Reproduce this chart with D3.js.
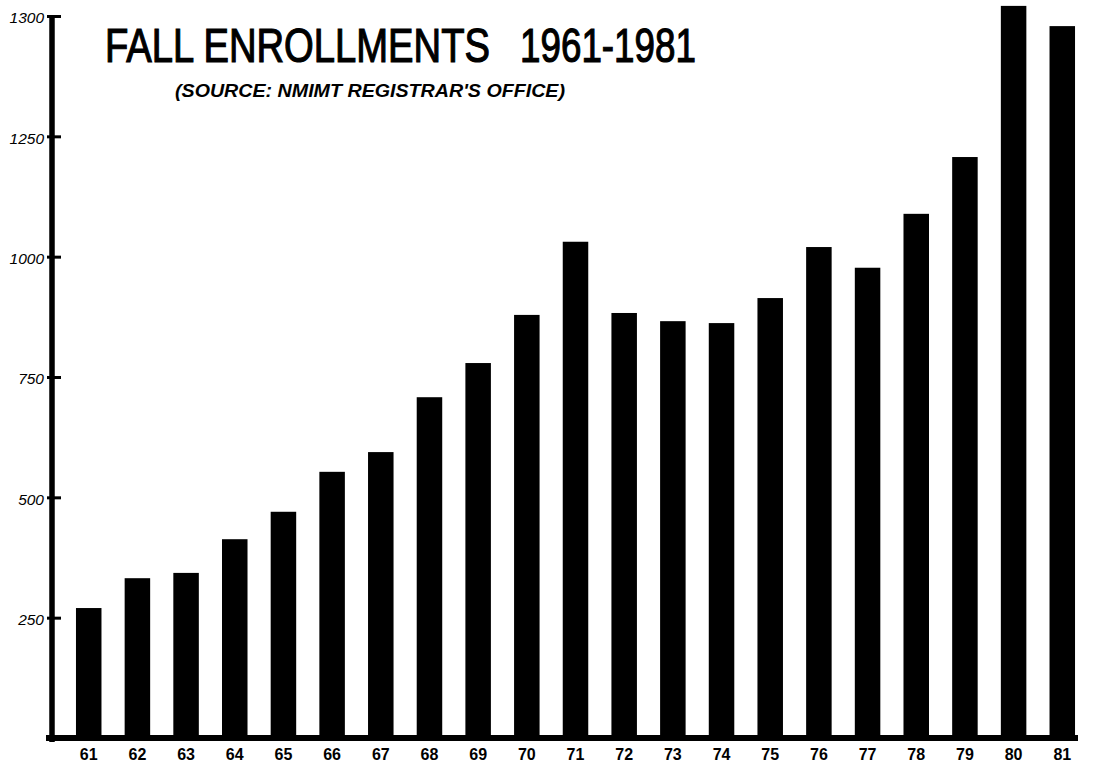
<!DOCTYPE html>
<html>
<head>
<meta charset="utf-8">
<script src="https://cdn.jsdelivr.net/npm/d3@7"></script>
<style>
  body { margin: 0; background: #fff; }
  svg { display: block; }
</style>
</head>
<body>
<div id="chart"></div>
<script>
const width = 1105
const height = 765

// data
const years = ['61', '62', '63', '64', '65', '66', '67', '68', '69', '70', '71',
  '72', '73', '74', '75', '76', '77', '78', '79', '80', '81']
const enrollments = [270, 332, 343, 413, 470, 553, 594, 708, 779, 879, 1031,
  883, 866, 862, 914, 1020, 977, 1089, 1207, 1521, 1479]
// tick positions and the labels as they were written (top one says 1300)
const tickValues = [250, 500, 750, 1000, 1250, 1500]
const tickLabels = ['250', '500', '750', '1000', '1250', '1300']

const axisX = 52
const baseY = 738

const svg = d3.select('#chart').append('svg')
  .attr('width', width)
  .attr('height', height)

svg.append('rect').attr('width', width).attr('height', height).attr('fill', '#fff')

const x = d3.scaleBand()
  .domain(years)
  .range([56.5, 1094.5])
  .paddingInner(0.476)
  .paddingOuter(0.4)

const y = d3.scaleLinear()
  .domain([0, 1500])
  .range([baseY, 16])

// bars
svg.append('g')
  .selectAll('rect')
  .data(years)
  .join('rect')
  .attr('x', (d) => x(d))
  .attr('y', (d, i) => y(enrollments[i]))
  .attr('width', x.bandwidth())
  .attr('height', (d, i) => baseY - y(enrollments[i]))
  .attr('fill', '#000')

// y axis
const yAxis = svg.append('g')
  .attr('transform', `translate(${axisX},0)`)
  .call(d3.axisLeft(y)
    .tickValues(tickValues)
    .tickFormat((d, i) => tickLabels[i])
    .tickSizeOuter(0)
    .tickSize(5)
    .tickPadding(3))
yAxis.select('.domain')
  .attr('d', `M0,${y(1500)}V${baseY + 4}`)
  .attr('stroke', '#000')
  .attr('stroke-width', 5.5)
yAxis.selectAll('.tick line')
  .attr('x1', -5)
  .attr('x2', 9)
  .attr('stroke', '#000')
  .attr('stroke-width', 3)
yAxis.selectAll('.tick text')
  .attr('font-family', 'Liberation Sans, sans-serif')
  .attr('font-style', 'italic')
  .attr('font-size', 15.5)
  .attr('fill', '#000')
  .attr('dy', '0.45em')

// x axis
const xAxis = svg.append('g')
  .attr('transform', `translate(0,${baseY})`)
  .call(d3.axisBottom(x).tickSize(0).tickPadding(11))
xAxis.select('.domain')
  .attr('d', `M${axisX - 6},0H1078`)
  .attr('stroke', '#000')
  .attr('stroke-width', 6)
xAxis.selectAll('.tick text')
  .attr('font-family', 'Liberation Sans, sans-serif')
  .attr('font-weight', 'bold')
  .attr('font-size', 16)
  .attr('fill', '#000')

// title: smaller font stretched upward so the two pieces stay apart
const titleParts = [
  { text: 'FALL ENROLLMENTS', x: 105, len: 385 },
  { text: '1961-1981', x: 520, len: 176 }
]
svg.selectAll('.title')
  .data(titleParts)
  .join('text')
  .attr('class', 'title')
  .attr('transform', (d) => `translate(${d.x},62) scale(1,1.35)`)
  .attr('font-family', 'Liberation Sans, sans-serif')
  .attr('font-size', 36)
  .attr('textLength', (d) => d.len)
  .attr('lengthAdjust', 'spacingAndGlyphs')
  .attr('fill', '#000')
  .attr('stroke', '#000')
  .attr('stroke-width', 0.9)
  .text((d) => d.text)

svg.append('text')
  .attr('x', 175)
  .attr('y', 97)
  .attr('font-family', 'Liberation Sans, sans-serif')
  .attr('font-style', 'italic')
  .attr('font-weight', 'bold')
  .attr('font-size', 18)
  .attr('textLength', 390)
  .attr('lengthAdjust', 'spacingAndGlyphs')
  .attr('fill', '#000')
  .text("(SOURCE: NMIMT REGISTRAR'S OFFICE)")
</script>
</body>
</html>
